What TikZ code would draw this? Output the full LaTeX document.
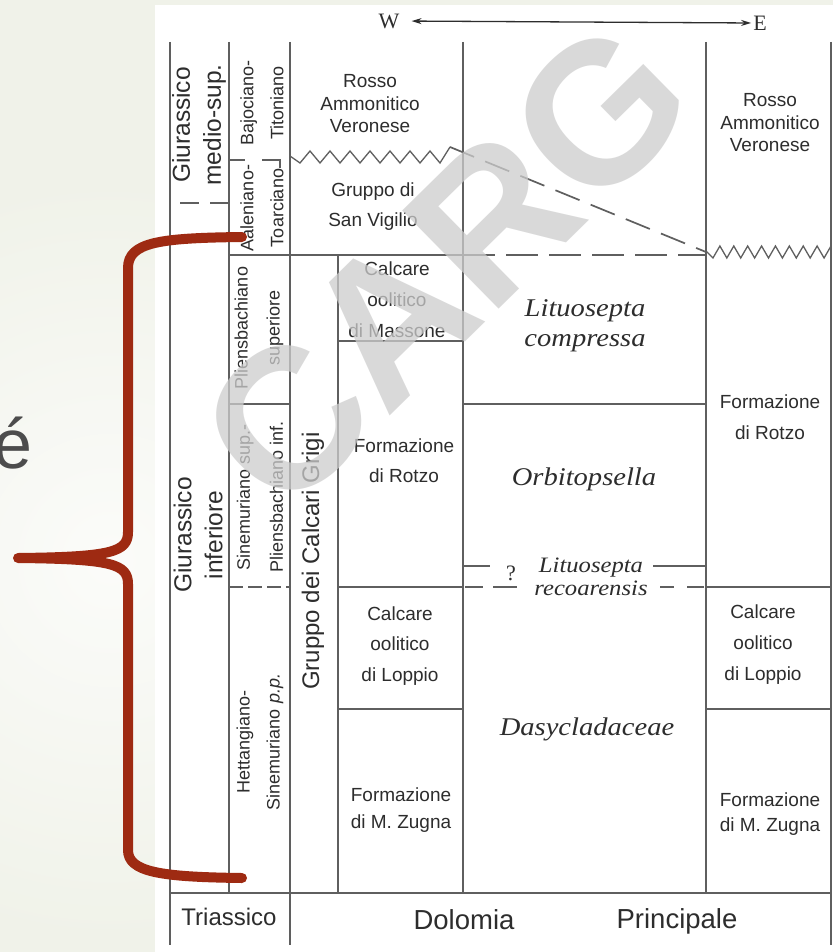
\documentclass[tikz,border=0pt]{standalone}
\usepackage{fontspec}
\usepackage{graphicx}
\setmainfont{Liberation Sans}
\newfontfamily\serifw{Liberation Serif}
\newfontfamily\fossil{Liberation Serif}[FakeStretch=1.12]
\usetikzlibrary{arrows.meta}
\definecolor{bg}{RGB}{240,242,233}
\definecolor{ln}{RGB}{95,95,95}
\definecolor{tx}{RGB}{45,45,45}
\definecolor{bracecol}{RGB}{158,42,18}
\definecolor{wm}{RGB}{205,205,205}
\begin{document}
\begin{tikzpicture}[x=1pt,y=-1pt,
  grid/.style={draw=ln,line width=1.7pt},
  zig/.style={draw=ln,line width=1.3pt,line join=miter},
  dashline/.style={grid,dash pattern=on 32pt off 11pt},
  lbl/.style={text=tx,inner sep=0pt,align=center,font=\fontsize{19}{30}\selectfont},
  rlbl/.style={text=tx,inner sep=0pt,align=center,rotate=90},
  fos/.style={text=tx,inner sep=0pt,align=center},
]
\useasboundingbox (0,0) rectangle (833,952);
\fill[bg] (0,0) rectangle (833,952);
\begin{scope}
\clip (0,0) rectangle (155,952);
\shade[inner color=white!75!bg,outer color=bg] (110,560) circle (380);
\end{scope}
\fill[white] (155,5) rectangle (833,952);

% vertical lines
\draw[grid] (170,42) -- (170,945);
\draw[grid] (229,42) -- (229,893);
\draw[grid] (290,42) -- (290,945);
\draw[grid] (338,255) -- (338,893);
\draw[grid] (463,42) -- (463,893);
\draw[grid] (706,42) -- (706,893);
\draw[grid] (831,42) -- (831,945);

% horizontal lines
\draw[grid] (229,255) -- (463,255);
\draw[dashline] (463,255) -- (706,255);
\draw[zig] (290,156) \foreach \i in {1,...,15}{ -- ({290+10*\i},{ifthenelse(mod(\i,2)==1,163,151)}) } -- (450,147);
\draw[grid,dash pattern=on 26pt off 12pt] (450,147) -- (706,252);
\draw[zig] (706,251) \foreach \i in {1,...,18}{ -- ({706+125*\i/18},{ifthenelse(mod(\i,2)==1,258,246)}) };
\draw[grid] (180,203) -- (199,203);
\draw[grid] (210,203) -- (228,203);
\draw[grid] (229,160) -- (245,160);
\draw[grid] (262,160) -- (280,160) -- (280,168);
\draw[grid] (338,341) -- (463,341);
\draw[grid] (229,404) -- (290,404);
\draw[grid] (463,404) -- (706,404);
\draw[grid] (463,566) -- (490,566);
\draw[grid] (653,566) -- (706,566);
\draw[grid,dash pattern=on 14pt off 5pt] (229,587) -- (290,587);
\draw[grid] (338,587) -- (463,587);
\draw[grid] (465,587) -- (483,587);
\draw[grid] (493,587) -- (517,587);
\draw[grid] (660,587) -- (674,587);
\draw[grid] (687,587) -- (704,587);
\draw[grid] (706,587) -- (831,587);
\draw[grid] (338,709) -- (463,709);
\draw[grid] (706,709) -- (831,709);
\draw[grid] (170,893) -- (831,893);

% W - E
\node[text=tx,inner sep=0pt,font=\serifw\fontsize{22}{22}\selectfont] (W) at (389,21) {W};
\node[text=tx,inner sep=0pt,font=\serifw\fontsize{22}{22}\selectfont] (E) at (760,23) {E};
\draw[draw=tx,line width=1.3pt,{Stealth[length=10pt,width=6pt]}-{Stealth[length=10pt,width=6pt]},shorten <=12pt,shorten >=2pt] (W.east) -- (E.west);

% rotated labels
\node[rlbl,font=\fontsize{24.5}{31}\selectfont] (gms) at (199,125) {Giurassico\\medio-sup.};
\node[rlbl,font=\fontsize{24.5}{31}\selectfont] (gin) at (198,535) {Giurassico\\inferiore};
\node[rlbl,font=\fontsize{18}{30}\selectfont] (bt) at (262,103) {Bajociano-\\Titoniano};
\node[rlbl,font=\fontsize{18}{30}\selectfont] (at) at (262,208) {Aaleniano-\\Toarciano};
\node[rlbl,font=\fontsize{18}{32}\selectfont] (ps) at (259,328) {Pliensbachiano\\superiore};
\node[rlbl,font=\fontsize{18}{33}\selectfont] (sp) at (260,497) {Sinemuriano sup.-\\Pliensbachiano inf.};
\node[rlbl,font=\fontsize{18}{30}\selectfont] (hs) at (260,742) {Hettangiano-\\Sinemuriano \textit{p.p.}};
\node[rlbl,font=\fontsize{24}{30}\selectfont] (gcg) at (313,561) {Gruppo dei Calcari Grigi};

% horizontal labels
\node[lbl,font=\fontsize{19}{22.5}\selectfont] (ravL) at (370,104) {Rosso\\Ammonitico\\Veronese};
\node[lbl,font=\fontsize{19}{22.5}\selectfont] (ravR) at (770,123) {Rosso\\Ammonitico\\Veronese};
\node[lbl] (gsv) at (373,207) {Gruppo di\\San Vigilio};
\node[lbl,font=\fontsize{19}{31}\selectfont] (com) at (397,300) {Calcare\\oolitico\\di Massone};
\node[lbl] (frL) at (404,461) {Formazione\\di Rotzo};
\node[lbl,font=\fontsize{19}{30.5}\selectfont] (colL) at (400,646) {Calcare\\oolitico\\di Loppio};
\node[lbl,font=\fontsize{19}{27}\selectfont] (fmzL) at (401,810) {Formazione\\di M. Zugna};
\node[lbl,font=\fontsize{19}{31}\selectfont] (frR) at (770,417) {Formazione\\di Rotzo};
\node[lbl,font=\fontsize{19}{31}\selectfont] (colR) at (763,645) {Calcare\\oolitico\\di Loppio};
\node[lbl,font=\fontsize{19}{25}\selectfont] (fmzR) at (770,814) {Formazione\\di M. Zugna};

% fossil labels
\node[fos,font=\fossil\itshape\fontsize{25.5}{30}\selectfont] (lc) at (585,326) {Lituosepta\\compressa};
\node[fos,font=\fossil\itshape\fontsize{25.5}{30}\selectfont] (orb) at (584,479) {Orbitopsella};
\node[fos,font=\fossil\itshape\fontsize{22}{23}\selectfont] (lr) at (591,577) {Lituosepta\\recoarensis};
\node[fos,font=\serifw\fontsize{22}{22}\selectfont] (q) at (511,573) {?};
\node[fos,font=\fossil\itshape\fontsize{25.5}{30}\selectfont] (das) at (587,729) {Dasycladaceae};

% bottom labels
\node[text=tx,inner sep=0pt,anchor=base,font=\fontsize{24}{24}\selectfont] (tri) at (229,925) {Triassico};
\node[text=tx,inner sep=0pt,anchor=base,font=\fontsize{27.5}{28}\selectfont] (dol) at (464,929) {Dolomia};
\node[text=tx,inner sep=0pt,anchor=base,font=\fontsize{27.5}{28}\selectfont] (pri) at (677,928) {Principale};

% left accent letter
\node[anchor=base west,inner sep=0pt,text=black!70,font=\fontsize{70}{70}\selectfont] (eacc) at (-7,468) {é};

% brace
\draw[bracecol,line width=10pt,line cap=round,line join=round]
  (242,237) .. controls (160,238) and (128,242) .. (128,268) -- (128,532)
  .. controls (128,552) and (112,557) .. (18,558)
  .. controls (112,559) and (128,564) .. (128,584) -- (128,850)
  .. controls (128,872) and (160,877) .. (242,878);

% watermark
\node[rotate=44.5,text=wm,text opacity=0.75,inner sep=0pt,font=\bfseries\fontsize{200}{200}\selectfont] (wmk) at (445,265) {CARG};
\end{tikzpicture}
\end{document}
